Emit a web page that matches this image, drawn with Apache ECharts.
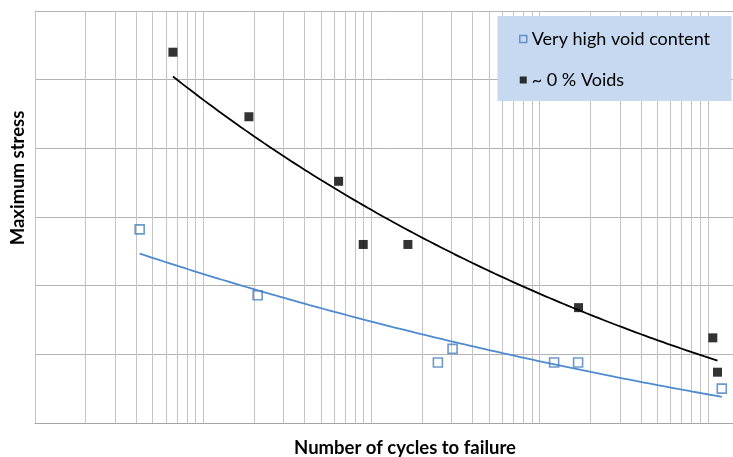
<!DOCTYPE html>
<html>
<head>
<meta charset="utf-8">
<script src="https://cdn.jsdelivr.net/npm/echarts@6/dist/echarts.min.js"></script>
<style>
  html, body { margin: 0; padding: 0; background: #ffffff; }
  #chart { width: 733px; height: 457px; }
</style>
</head>
<body>
<div id="chart"></div>
<script>
// Fatigue test results: cycles to failure vs. maximum stress
const seriesNames = ['Very high void content', '~ 0 % Voids'];
const highVoidCycles = [4190, 21070, 248500, 303800, 1220000, 1694000, 12110000];
const highVoidStress = [241, 193, 144, 154, 144, 144, 125];
const lowVoidCycles = [6607, 18700, 63850, 89400, 164800, 1704000, 10710000, 11420000];
const lowVoidStress = [370, 323, 276, 230, 230, 184, 162, 137];

// Axis ranges and grid lines (log decades with 1..9 subdivisions)
const cycleMin = 1e3;
const cycleMax = 1e8;
const decades = [1e3, 1e4, 1e5, 1e6, 1e7];
const decadeSteps = [1, 2, 3, 4, 5, 6, 7, 8, 9];
const stressMin = 100;
const stressMax = 400;
const stressStep = 50;

// Power-law trend line (least squares in log-log space), spanning the data range
function powerTrend(xs, ys, samples) {
  const n = xs.length;
  const lx = xs.map(Math.log);
  const ly = ys.map(Math.log);
  const mx = lx.reduce((a, b) => a + b, 0) / n;
  const my = ly.reduce((a, b) => a + b, 0) / n;
  let sxy = 0, sxx = 0;
  for (let i = 0; i < n; i++) {
    sxy += (lx[i] - mx) * (ly[i] - my);
    sxx += (lx[i] - mx) * (lx[i] - mx);
  }
  const b = sxy / sxx;
  const a = Math.exp(my - b * mx);
  const x0 = Math.min(...xs), x1 = Math.max(...xs);
  const pts = [];
  for (let i = 0; i <= samples; i++) {
    const x = x0 * Math.pow(x1 / x0, i / samples);
    pts.push([x, a * Math.pow(x, b)]);
  }
  return pts;
}

const zip = (xs, ys) => xs.map((x, i) => [x, ys[i]]);

const verticalGrid = [];
decades.forEach(d => decadeSteps.forEach(m => verticalGrid.push({ xAxis: d * m })));

const blue = '#4A7EBB';
const blueLine = '#4F8AD0';

const chart = echarts.init(document.getElementById('chart'), null, { renderer: 'canvas' });

chart.setOption({
  animation: false,
  backgroundColor: '#ffffff',
  grid: { left: 35, top: 11, width: 841, height: 412, containLabel: false, outerBoundsMode: 'none' },
  xAxis: {
    type: 'log',
    logBase: 10,
    min: cycleMin,
    max: cycleMax,
    axisLine: { show: true, lineStyle: { color: '#A6A6A6', width: 1 } },
    axisTick: { show: false },
    axisLabel: { show: false },
    splitLine: { show: false }
  },
  yAxis: {
    type: 'value',
    min: stressMin,
    max: stressMax,
    interval: stressStep,
    axisLine: { show: true, lineStyle: { color: '#A6A6A6', width: 1 } },
    axisTick: { show: false },
    axisLabel: { show: false },
    splitLine: { show: true, lineStyle: { color: '#B3B3B3', width: 1 } }
  },
  legend: {
    data: [
      { name: seriesNames[0], icon: 'rect', itemStyle: { color: 'rgba(0,0,0,0)', borderColor: blue, borderWidth: 1.5 } },
      { name: seriesNames[1], icon: 'rect', itemStyle: { color: '#000000' } }
    ],
    orient: 'vertical',
    left: 519,
    top: 29,
    padding: 0,
    itemWidth: 7,
    itemHeight: 7,
    itemGap: 21,
    selectedMode: false,
    z: 20,
    textStyle: { fontFamily: 'Lato', fontSize: 18, color: '#000000', lineHeight: 20, padding: [0, 0, 0, 0] }
  },
  graphic: [
    {
      type: 'rect', z: 10, silent: true,
      shape: { x: 497.5, y: 16, width: 234, height: 85 },
      style: { fill: '#C6D9F1' }
    },
    {
      type: 'text', z: 10, silent: true,
      x: 18, y: 178, rotation: Math.PI / 2,
      style: { text: 'Maximum stress', fontFamily: 'Lato', fontWeight: 'bold', fontSize: 18.5, fill: '#000000', align: 'center', verticalAlign: 'middle' }
    },
    {
      type: 'text', z: 10, silent: true,
      x: 405, y: 448,
      style: { text: 'Number of cycles to failure', fontFamily: 'Lato', fontWeight: 'bold', fontSize: 18.5, fill: '#000000', align: 'center', verticalAlign: 'middle' }
    }
  ],
  series: [
    {
      type: 'line',
      name: 'gridlines',
      data: [],
      silent: true,
      z: 1,
      markLine: {
        silent: true,
        z: 1,
        symbol: ['none', 'none'],
        label: { show: false },
        lineStyle: { color: '#C4C4C4', type: 'solid', width: 1 },
        emphasis: { disabled: true },
        animation: false,
        data: verticalGrid
      }
    },
    {
      type: 'line',
      name: 'trend-high',
      data: powerTrend(highVoidCycles, highVoidStress, 120),
      showSymbol: false,
      silent: true,
      z: 3,
      lineStyle: { color: blueLine, width: 1.8 }
    },
    {
      type: 'line',
      name: 'trend-low',
      data: powerTrend(lowVoidCycles, lowVoidStress, 120),
      showSymbol: false,
      silent: true,
      z: 3,
      lineStyle: { color: '#000000', width: 1.8 }
    },
    {
      type: 'scatter',
      name: seriesNames[0],
      data: zip(highVoidCycles, highVoidStress),
      symbol: 'rect',
      symbolSize: 9,
      z: 4,
      itemStyle: { color: 'rgba(0,0,0,0)', borderColor: blue, borderWidth: 1.6 }
    },
    {
      type: 'scatter',
      name: seriesNames[1],
      data: zip(lowVoidCycles, lowVoidStress),
      symbol: 'rect',
      symbolSize: 9,
      z: 4,
      itemStyle: { color: '#000000' }
    }
  ]
});
</script>
</body>
</html>
